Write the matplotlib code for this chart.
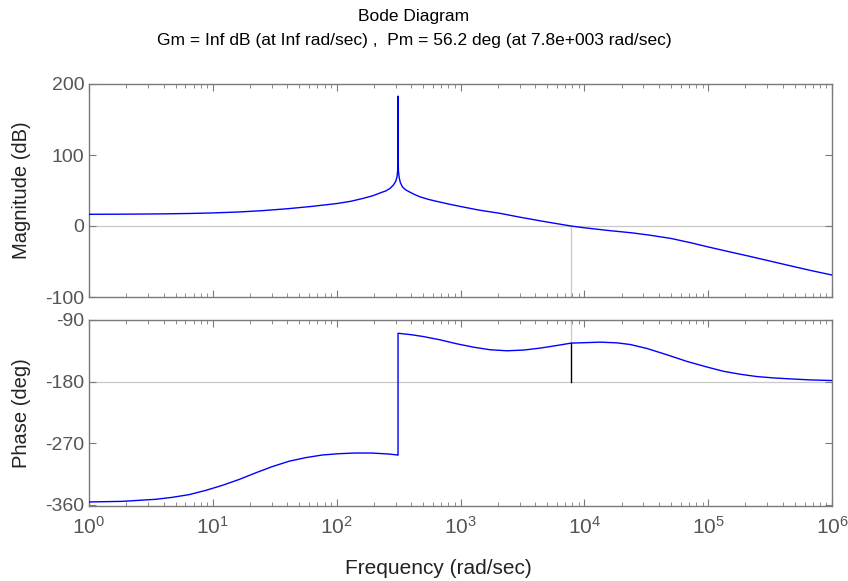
import numpy as np
import matplotlib.pyplot as plt
from matplotlib.ticker import LogLocator, FixedLocator, NullFormatter

plt.rcParams["font.family"] = ["Liberation Sans", "DejaVu Sans"]
plt.rcParams["mathtext.fontset"] = "custom"
plt.rcParams["mathtext.rm"] = "Liberation Sans"
plt.rcParams["mathtext.it"] = "Liberation Sans"
plt.rcParams["axes.unicode_minus"] = False

# magnitude curve (rad/sec, dB)
mag_freq = [1, 1.6, 2.5, 4, 6.3, 10, 16, 25, 40, 63, 100, 130, 160, 195, 224,
            250, 270, 288, 300, 307, 310.5, 312.3, 313, 313.7, 315.5, 320,
            327, 340, 360, 392, 430, 472, 550, 650, 824, 1000, 1400, 2090,
            3000, 4500, 6000, 7800, 10000, 15000, 24700, 34000, 50000, 72000,
            100000, 150000, 220000, 300000, 500000, 700000, 1e6]
mag_db = [16.5, 16.6, 16.8, 17.1, 17.6, 18.4, 19.7, 21.6, 24.3, 27.6, 31.6,
          34.8, 38.5, 42.5, 46.5, 49.5, 53, 58, 63, 69, 77, 95, 183, 95, 77,
          68, 61, 55, 51, 47.5, 44, 41, 37.5, 34.5, 30.5, 27.5, 22.5, 17.8,
          12.5, 7, 3.3, 0, -2.5, -6, -9.8, -13, -17.5, -23.5,
          -29.5, -36.5, -43, -48.5, -57.5, -63.3, -69]

# phase curve (rad/sec, deg)
ph_freq = [1, 1.86, 3.46, 4.71, 6.42, 8.75, 11.9, 16.3, 22.2, 30.3, 41.3,
           56.2, 76.7, 104.5, 142.6, 194, 265, 309, 313, 313, 400, 501, 684,
           933, 1271, 1734, 2366, 3223, 4397, 5998, 7820, 11140, 13420, 18290,
           23420, 31970, 46380, 67240, 97500, 133000, 181200, 247000, 337000,
           459500, 666700, 1e6]
ph_deg = [-356.1, -355.2, -352.2, -349.3, -345.4, -339.2, -331.9, -323.2,
          -313.5, -304.3, -296.5, -291.3, -287.4, -285.5, -284.5, -284.6,
          -286, -287.4, -287.6, -109.4, -111.5, -114.2, -119, -124.8, -129.7,
          -133.5, -135, -134, -131.1, -127.3, -123.8, -122.9, -122.4, -123.4,
          -125.8, -131.6, -140.8, -150.5, -158.7, -165, -169.3, -172.7,
          -174.7, -176.1, -177.6, -178.5]

# margins
pm_freq = 7.8e3
pm_phase = -123.8

title_lines = ["Bode Diagram",
               "Gm = Inf dB (at Inf rad/sec) ,  Pm = 56.2 deg (at 7.8e+003 rad/sec)"]
mag_ticks = [-100, 0, 100, 200]
ph_ticks = [-360, -270, -180, -90]

W, H = 848, 581
fig = plt.figure(figsize=(W / 100, H / 100), dpi=100)
ax1 = fig.add_axes([89 / W, 1 - 297 / H, 743 / W, 213 / H])
ax2 = fig.add_axes([89 / W, 1 - 506 / H, 743 / W, 186 / H])

spine_col = "#7a7a7a"
tick_col = "#555555"
ref_col = "#c8c8c8"

for ax in (ax1, ax2):
    ax.set_xscale("log")
    ax.set_xlim(1, 1e6)
    for s in ax.spines.values():
        s.set_color(spine_col)
        s.set_linewidth(1.0)
    ax.tick_params(which="both", direction="in", top=True, right=True,
                   colors=spine_col, labelcolor=tick_col, labelsize=14)
    ax.tick_params(which="major", length=5)
    ax.tick_params(which="minor", length=3)
    ax.xaxis.set_major_locator(LogLocator(base=10, numticks=10))
    ax.xaxis.set_minor_locator(LogLocator(base=10, subs=np.arange(2, 10), numticks=10))
    ax.xaxis.set_minor_formatter(NullFormatter())

# magnitude
ax1.axhline(0, color=ref_col, lw=0.9, zorder=1)
ax1.plot([pm_freq, pm_freq], [-100, 0], color=ref_col, lw=0.9, zorder=1)
ax1.plot(mag_freq, mag_db, color="#0000ff", lw=1.0, zorder=3)
ax1.set_ylim(-100, 200)
ax1.yaxis.set_major_locator(FixedLocator(mag_ticks))
ax1.xaxis.set_major_formatter(NullFormatter())

# phase
ax2.axhline(-180, color=ref_col, lw=0.9, zorder=1)
ax2.plot([pm_freq, pm_freq], [-90, pm_phase], color=ref_col, lw=0.9, zorder=1)
ax2.plot([pm_freq, pm_freq], [-180, pm_phase], color="black", lw=1.0, zorder=2)
ax2.plot(ph_freq, ph_deg, color="#0000ff", lw=1.0, zorder=3)
ax2.set_ylim(-362, -90)
ax2.yaxis.set_major_locator(FixedLocator(ph_ticks))
ax2.set_xticks([10.0 ** k for k in range(7)])
ax2.set_xticklabels([r"$10^{%d}$" % k for k in range(7)], fontsize=15)
ax2.tick_params(axis="x", which="major", pad=7)

fig.text(414 / W, 1 - 17 / H, title_lines[0], ha="center", va="center", fontsize=12.5)
fig.text(414 / W, 1 - 40 / H, title_lines[1], ha="center", va="center", fontsize=12.5)
fig.text(438 / W, 1 - 568 / H, "Frequency (rad/sec)", ha="center", va="center",
         fontsize=15, color="#222222")
fig.text(22 / W, 1 - 190 / H, "Magnitude (dB)", ha="center", va="center",
         rotation=90, fontsize=14.5, color="#222222")
fig.text(22 / W, 1 - 413 / H, "Phase (deg)", ha="center", va="center",
         rotation=90, fontsize=14.5, color="#222222")

fig.savefig("out.png", dpi=100)
